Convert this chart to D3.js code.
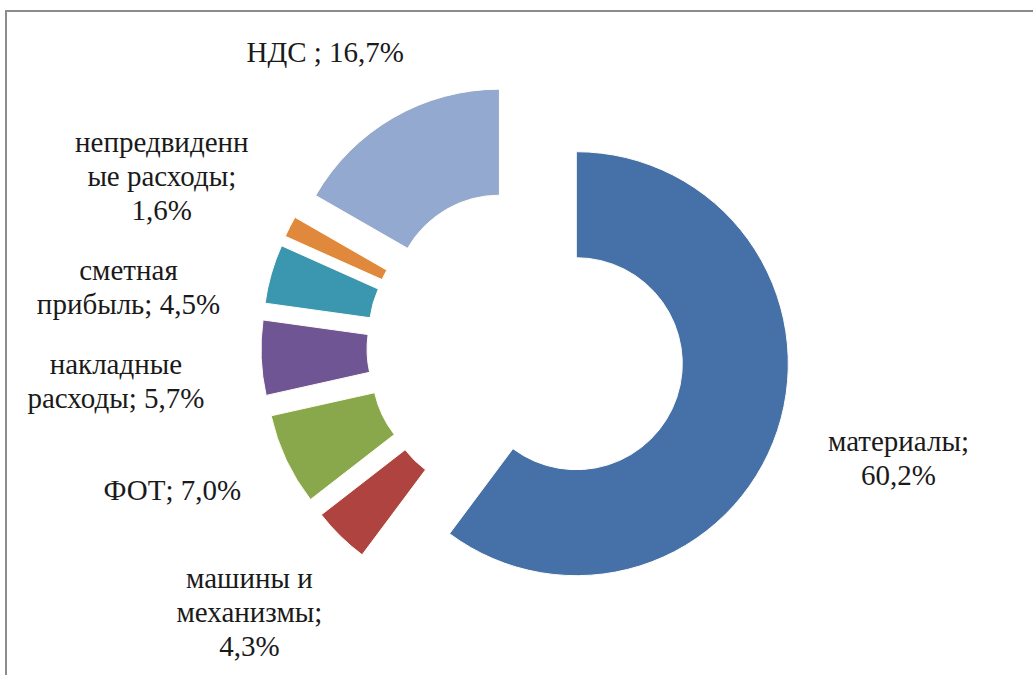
<!DOCTYPE html>
<html>
<head>
<style>
    body { margin: 0; background: #fff; }
    .label { font-size: 29px; fill: #1a1a1a; }
</style>
</head>
<body>
    <svg id="container" width="1033" height="675">
        <rect id="frame" x="6" y="11" width="1100" height="720" fill="none" stroke="#8c8c8c" stroke-width="2"></rect>
        <g id="body" transform="translate(526, 347)"></g>
    </svg>
</body>
<script src="https://d3js.org/d3.v7.min.js"></script>
<script>
    // data
    const categories = ["материалы", "машины и механизмы", "ФОТ", "накладные расходы",
        "сметная прибыль", "непредвиденные расходы", "НДС"];
    const values = [60.2, 4.3, 7.0, 5.7, 4.5, 1.6, 16.7];
    // label text as wrapped in the original, {v} is replaced with the value
    const labelLines = [
        ["материалы;", "{v}"],
        ["машины и", "механизмы;", "{v}"],
        ["ФОТ; {v}"],
        ["накладные", "расходы; {v}"],
        ["сметная", "прибыль; {v}"],
        ["непредвиденн", "ые расходы;", "{v}"],
        ["НДС ; {v}"]
    ];
    const colors = ["#4570a8", "#ae4340", "#89a84b", "#6f5594", "#3b97b0", "#e0893c", "#93a9d0"];

    let outerR = 212, innerR = 106, explode = 53;
    let labelR = 322, lineH = 34, fontSize = 29, labelGap = 26;

    let data = categories.map((c, i) => ({ name: c, value: values[i], lines: labelLines[i], color: colors[i] }));
    let fmt = (v) => d3.format(".1f")(v).replace(".", ",") + "%";

    let pie = d3.pie().sort(null).value((d) => d.value);
    let arc = d3.arc().innerRadius(innerR).outerRadius(outerR);
    let body = d3.select("#body");

    let arcs = pie(data);
    //direction of the middle of each slice, clockwise from top
    arcs.forEach((a) => {
        let mid = (a.startAngle + a.endAngle) / 2;
        a.dx = Math.sin(mid);
        a.dy = -Math.cos(mid);
    });

    body.selectAll(".slice")
        .data(arcs)
        .enter()
        .append("path")
        .attr("class", "slice")
        .attr("transform", (d) => "translate(" + d.dx * explode + "," + d.dy * explode + ")")
        .attr("d", arc)
        .attr("fill", (d) => d.data.color)
        .attr("stroke", "#fffdf5")
        .attr("stroke-width", 1);

    let labels = body.selectAll(".label")
        .data(arcs)
        .enter()
        .append("text")
        .attr("class", "label")
        .attr("font-family", "'Liberation Serif', Tinos, 'DejaVu Serif', 'Times New Roman', Times, serif")
        .attr("text-anchor", "middle");

    //first pass: text + box size, box pushed out from the slice direction
    labels.each(function(d) {
        let t = d3.select(this);
        let lines = d.data.lines.map((l) => l.replace("{v}", fmt(d.data.value)));
        lines.forEach((l) => t.append("tspan").text(l));
        d.w = d3.max(t.selectAll("tspan").nodes(), (n) => n.getComputedTextLength());
        d.h = lines.length * lineH;
        d.cx = d.dx * labelR + d.dx * d.w / 2;
        d.cy = d.dy * labelR + d.dy * d.h / 2;
    });

    //second pass: keep labels on the left side apart, going down
    let left = arcs.filter((d) => d.dx < 0).sort((a, b) => a.cy - b.cy);
    for (let i = 1; i < left.length; i++) {
        let prevBottom = left[i - 1].cy + left[i - 1].h / 2;
        let top = left[i].cy - left[i].h / 2;
        if (top < prevBottom + labelGap) left[i].cy += prevBottom + labelGap - top;
    }

    labels.selectAll("tspan")
        .attr("x", function() { return d3.select(this.parentNode).datum().cx; })
        .attr("y", function(l, i) {
            let d = d3.select(this.parentNode).datum();
            let n = d.data.lines.length;
            return d.cy + (i - (n - 1) / 2) * lineH + fontSize * 0.3;
        });
</script>
</html>
